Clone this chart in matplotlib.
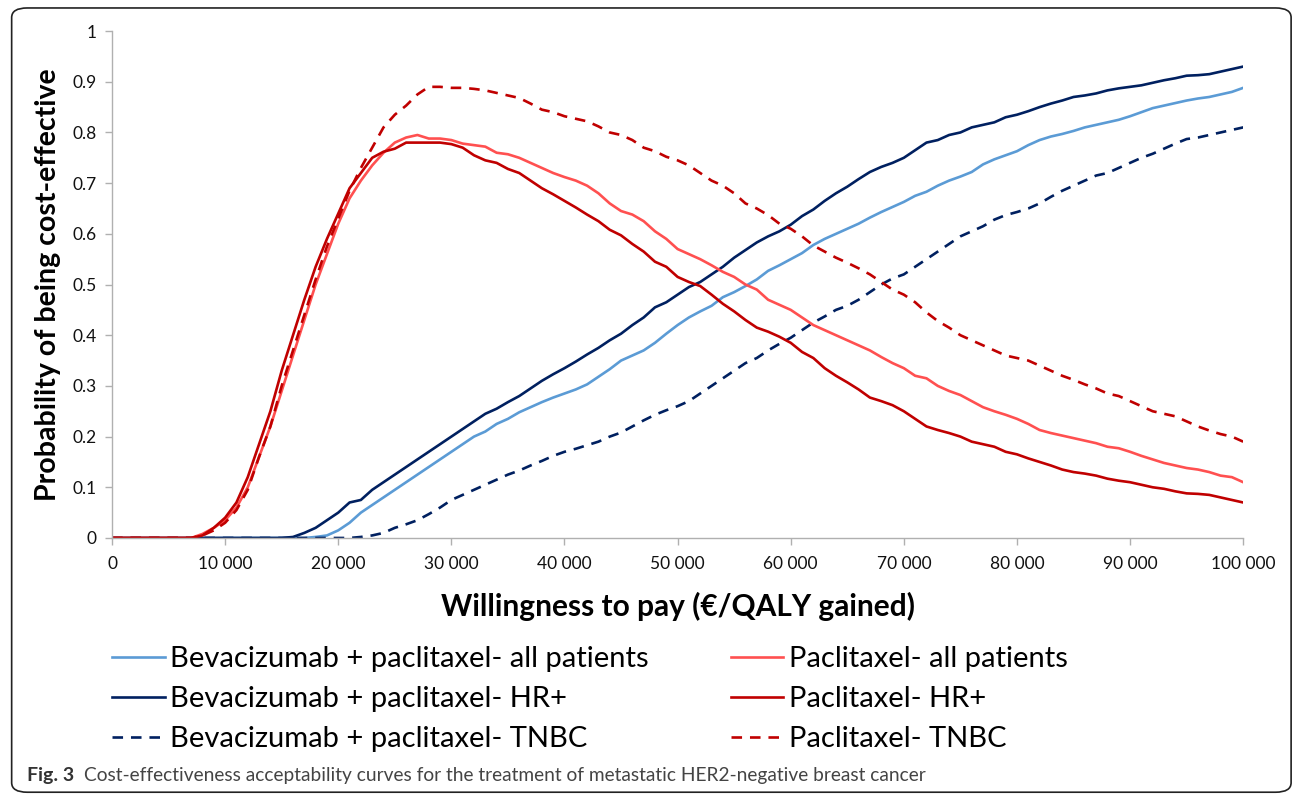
import matplotlib
matplotlib.use("Agg")
import matplotlib.pyplot as plt
from matplotlib.patches import FancyBboxPatch

plt.rcParams['font.family'] = ['Lato', 'DejaVu Sans']

# willingness to pay, in thousands of euro
wtp_k = list(range(0, 101))

bev_all = [0]*18 + [
    0.002, 0.005, 0.015, 0.03, 0.05, 0.065, 0.08, 0.095, 0.11, 0.125,
    0.14, 0.155, 0.17, 0.185, 0.2, 0.21, 0.225, 0.235, 0.248, 0.258,
    0.268, 0.277, 0.285, 0.293, 0.303, 0.318, 0.333, 0.35, 0.36, 0.37,
    0.385, 0.403, 0.42, 0.435, 0.447, 0.458, 0.475, 0.485, 0.497, 0.51,
    0.527, 0.538, 0.55, 0.562, 0.578, 0.59, 0.6, 0.61, 0.62, 0.632,
    0.643, 0.653, 0.663, 0.675, 0.683, 0.695, 0.705, 0.713, 0.722, 0.737,
    0.747, 0.755, 0.763, 0.775, 0.785, 0.792, 0.797, 0.803, 0.81, 0.815,
    0.82, 0.825, 0.832, 0.84, 0.848, 0.853, 0.858, 0.863, 0.867, 0.87,
    0.875, 0.88, 0.888]

bev_hr = [0]*16 + [
    0.002, 0.01, 0.02, 0.035, 0.05, 0.07, 0.075, 0.095, 0.11, 0.125,
    0.14, 0.155, 0.17, 0.185, 0.2, 0.215, 0.23, 0.245, 0.255, 0.268,
    0.28, 0.295, 0.31, 0.323, 0.335, 0.348, 0.362, 0.375, 0.39, 0.403,
    0.42, 0.435, 0.455, 0.465, 0.48, 0.495, 0.505, 0.52, 0.535, 0.553,
    0.568, 0.583, 0.595, 0.605, 0.618, 0.635, 0.648, 0.665, 0.68, 0.693,
    0.708, 0.722, 0.732, 0.74, 0.75, 0.765, 0.78, 0.785, 0.795, 0.8,
    0.81, 0.815, 0.82, 0.83, 0.835, 0.842, 0.85, 0.857, 0.863, 0.87,
    0.873, 0.877, 0.883, 0.887, 0.89, 0.893, 0.898, 0.903, 0.907, 0.912,
    0.913, 0.915, 0.92, 0.925, 0.93]

bev_tnbc = [0]*22 + [
    0.002, 0.005, 0.01, 0.02, 0.027, 0.035, 0.047, 0.06, 0.075, 0.085,
    0.095, 0.105, 0.115, 0.125, 0.133, 0.143, 0.152, 0.162, 0.17, 0.176,
    0.183, 0.19, 0.2, 0.208, 0.22, 0.232, 0.243, 0.252, 0.26, 0.27,
    0.285, 0.3, 0.315, 0.33, 0.345, 0.355, 0.37, 0.383, 0.395, 0.41,
    0.425, 0.437, 0.45, 0.458, 0.47, 0.485, 0.5, 0.512, 0.52, 0.535,
    0.55, 0.565, 0.58, 0.595, 0.605, 0.615, 0.628, 0.637, 0.643, 0.65,
    0.66, 0.673, 0.685, 0.695, 0.705, 0.715, 0.72, 0.73, 0.74, 0.75,
    0.758, 0.768, 0.778, 0.787, 0.79, 0.795, 0.8, 0.805, 0.81]

pac_all = [0]*8 + [
    0.008, 0.02, 0.035, 0.06, 0.1, 0.16, 0.22, 0.29, 0.36, 0.43,
    0.5, 0.56, 0.62, 0.67, 0.705, 0.735, 0.76, 0.78, 0.79, 0.795,
    0.788, 0.788, 0.785, 0.778, 0.775, 0.772, 0.76, 0.757, 0.75, 0.74,
    0.73, 0.72, 0.712, 0.705, 0.695, 0.68, 0.66, 0.645, 0.638, 0.625,
    0.605, 0.59, 0.57, 0.56, 0.55, 0.538, 0.525, 0.515, 0.5, 0.49,
    0.47, 0.46, 0.45, 0.435, 0.42, 0.41, 0.4, 0.39, 0.38, 0.37,
    0.357, 0.345, 0.335, 0.32, 0.315, 0.3, 0.29, 0.282, 0.27, 0.258,
    0.25, 0.243, 0.235, 0.225, 0.213, 0.207, 0.202, 0.197, 0.192, 0.187,
    0.18, 0.177, 0.17, 0.162, 0.155, 0.148, 0.143, 0.138, 0.135, 0.13,
    0.123, 0.12, 0.11]

pac_hr = [0]*8 + [
    0.005, 0.02, 0.04, 0.07, 0.12, 0.185, 0.25, 0.33, 0.4, 0.47,
    0.535, 0.59, 0.64, 0.69, 0.72, 0.75, 0.762, 0.768, 0.78, 0.78,
    0.78, 0.78, 0.777, 0.77, 0.755, 0.745, 0.74, 0.728, 0.72, 0.705,
    0.69, 0.678, 0.665, 0.652, 0.638, 0.625, 0.608, 0.597, 0.58, 0.565,
    0.545, 0.535, 0.515, 0.505, 0.497, 0.48, 0.462, 0.447, 0.43, 0.415,
    0.407, 0.397, 0.385, 0.367, 0.355, 0.335, 0.32, 0.307, 0.293, 0.277,
    0.27, 0.262, 0.25, 0.235, 0.22, 0.213, 0.207, 0.2, 0.19, 0.185,
    0.18, 0.17, 0.165, 0.157, 0.15, 0.143, 0.135, 0.13, 0.127, 0.123,
    0.117, 0.113, 0.11, 0.105, 0.1, 0.097, 0.092, 0.088, 0.087, 0.085,
    0.08, 0.075, 0.07]

pac_tnbc = [0]*8 + [
    0.005, 0.015, 0.03, 0.055, 0.095, 0.16, 0.22, 0.3, 0.37, 0.44,
    0.51, 0.575, 0.63, 0.685, 0.73, 0.77, 0.81, 0.835, 0.853, 0.875,
    0.89, 0.89, 0.888, 0.888, 0.886, 0.883, 0.878, 0.873, 0.868, 0.857,
    0.845, 0.84, 0.832, 0.827, 0.822, 0.812, 0.8, 0.795, 0.785, 0.77,
    0.763, 0.752, 0.745, 0.735, 0.72, 0.705, 0.695, 0.68, 0.66, 0.65,
    0.637, 0.62, 0.61, 0.595, 0.577, 0.565, 0.553, 0.543, 0.532, 0.52,
    0.505, 0.49, 0.48, 0.465, 0.445, 0.428, 0.415, 0.4, 0.39, 0.38,
    0.37, 0.36, 0.355, 0.35, 0.34, 0.33, 0.32, 0.312, 0.303, 0.295,
    0.285, 0.28, 0.27, 0.26, 0.25, 0.245, 0.24, 0.23, 0.22, 0.212,
    0.205, 0.2, 0.19]

labels = ["Bevacizumab + paclitaxel- all patients",
          "Bevacizumab + paclitaxel- HR+",
          "Bevacizumab + paclitaxel- TNBC",
          "Paclitaxel- all patients",
          "Paclitaxel- HR+",
          "Paclitaxel- TNBC"]

x_ticks = list(range(0, 100001, 10000))
x_ticklabels = ["0"] + ["{} 000".format(v // 1000) for v in x_ticks[1:]]
y_ticks = [i / 10 for i in range(11)]
y_ticklabels = ["0"] + ["0.{}".format(i) for i in range(1, 10)] + ["1"]

fig = plt.figure(figsize=(12.95, 7.97), dpi=100)
ax = fig.add_axes([0.0865, 0.325, 0.8735, 0.636])

x = [k * 1000 for k in wtp_k]
lw = 1.9
ax.plot(x, bev_all, color="#5B9BD5", lw=lw, label=labels[0])
ax.plot(x, bev_hr, color="#002060", lw=lw, label=labels[1])
ax.plot(x, bev_tnbc, color="#002060", lw=lw, dashes=(4, 3), label=labels[2])
ax.plot(x, pac_all, color="#FF5050", lw=lw, label=labels[3])
ax.plot(x, pac_hr, color="#C00000", lw=lw, label=labels[4])
ax.plot(x, pac_tnbc, color="#C00000", lw=lw, dashes=(4, 3), label=labels[5])

ax.set_xlim(0, 100000)
ax.set_ylim(0, 1)
ax.set_xticks(x_ticks)
ax.set_xticklabels(x_ticklabels)
ax.set_yticks(y_ticks)
ax.set_yticklabels(y_ticklabels)
for s in ["top", "right"]:
    ax.spines[s].set_visible(False)
for s in ["left", "bottom"]:
    ax.spines[s].set_color("#B0B0B0")
    ax.spines[s].set_linewidth(1.0)
ax.tick_params(axis="both", colors="#B0B0B0", labelcolor="#111111",
               labelsize=12.5, length=5, width=1.0)
ax.tick_params(axis="x", pad=8)
ax.tick_params(axis="y", pad=6)

ax.set_xlabel("Willingness to pay (€/QALY gained)", fontsize=21.5,
              fontweight="bold", labelpad=14)
ax.set_ylabel("Probability of being cost-effective", fontsize=20.5,
              fontweight="bold", labelpad=8)

ax.legend(loc="upper left", bbox_to_anchor=(0.0, -0.214), ncol=2,
          frameon=False, fontsize=21, handlelength=1.8,
          handletextpad=0.2, columnspacing=2.8, labelspacing=0.48,
          borderpad=0, borderaxespad=0)

# frame round the figure, like the journal layout
frame = FancyBboxPatch((0.009, 0.006), 0.988, 0.984,
                       boxstyle="round,pad=0,rounding_size=0.012",
                       transform=fig.transFigure, fill=False,
                       edgecolor="#222222", lw=1.2)
fig.patches.append(frame)

fig.text(0.021, 0.027, "Fig. 3", fontsize=14, fontweight="bold",
         color="#333333", va="center")
fig.text(0.0649, 0.027,
         "Cost-effectiveness acceptability curves for the treatment of "
         "metastatic HER2-negative breast cancer",
         fontsize=13.8, color="#444444", va="center")

fig.savefig("out.png", dpi=100)
